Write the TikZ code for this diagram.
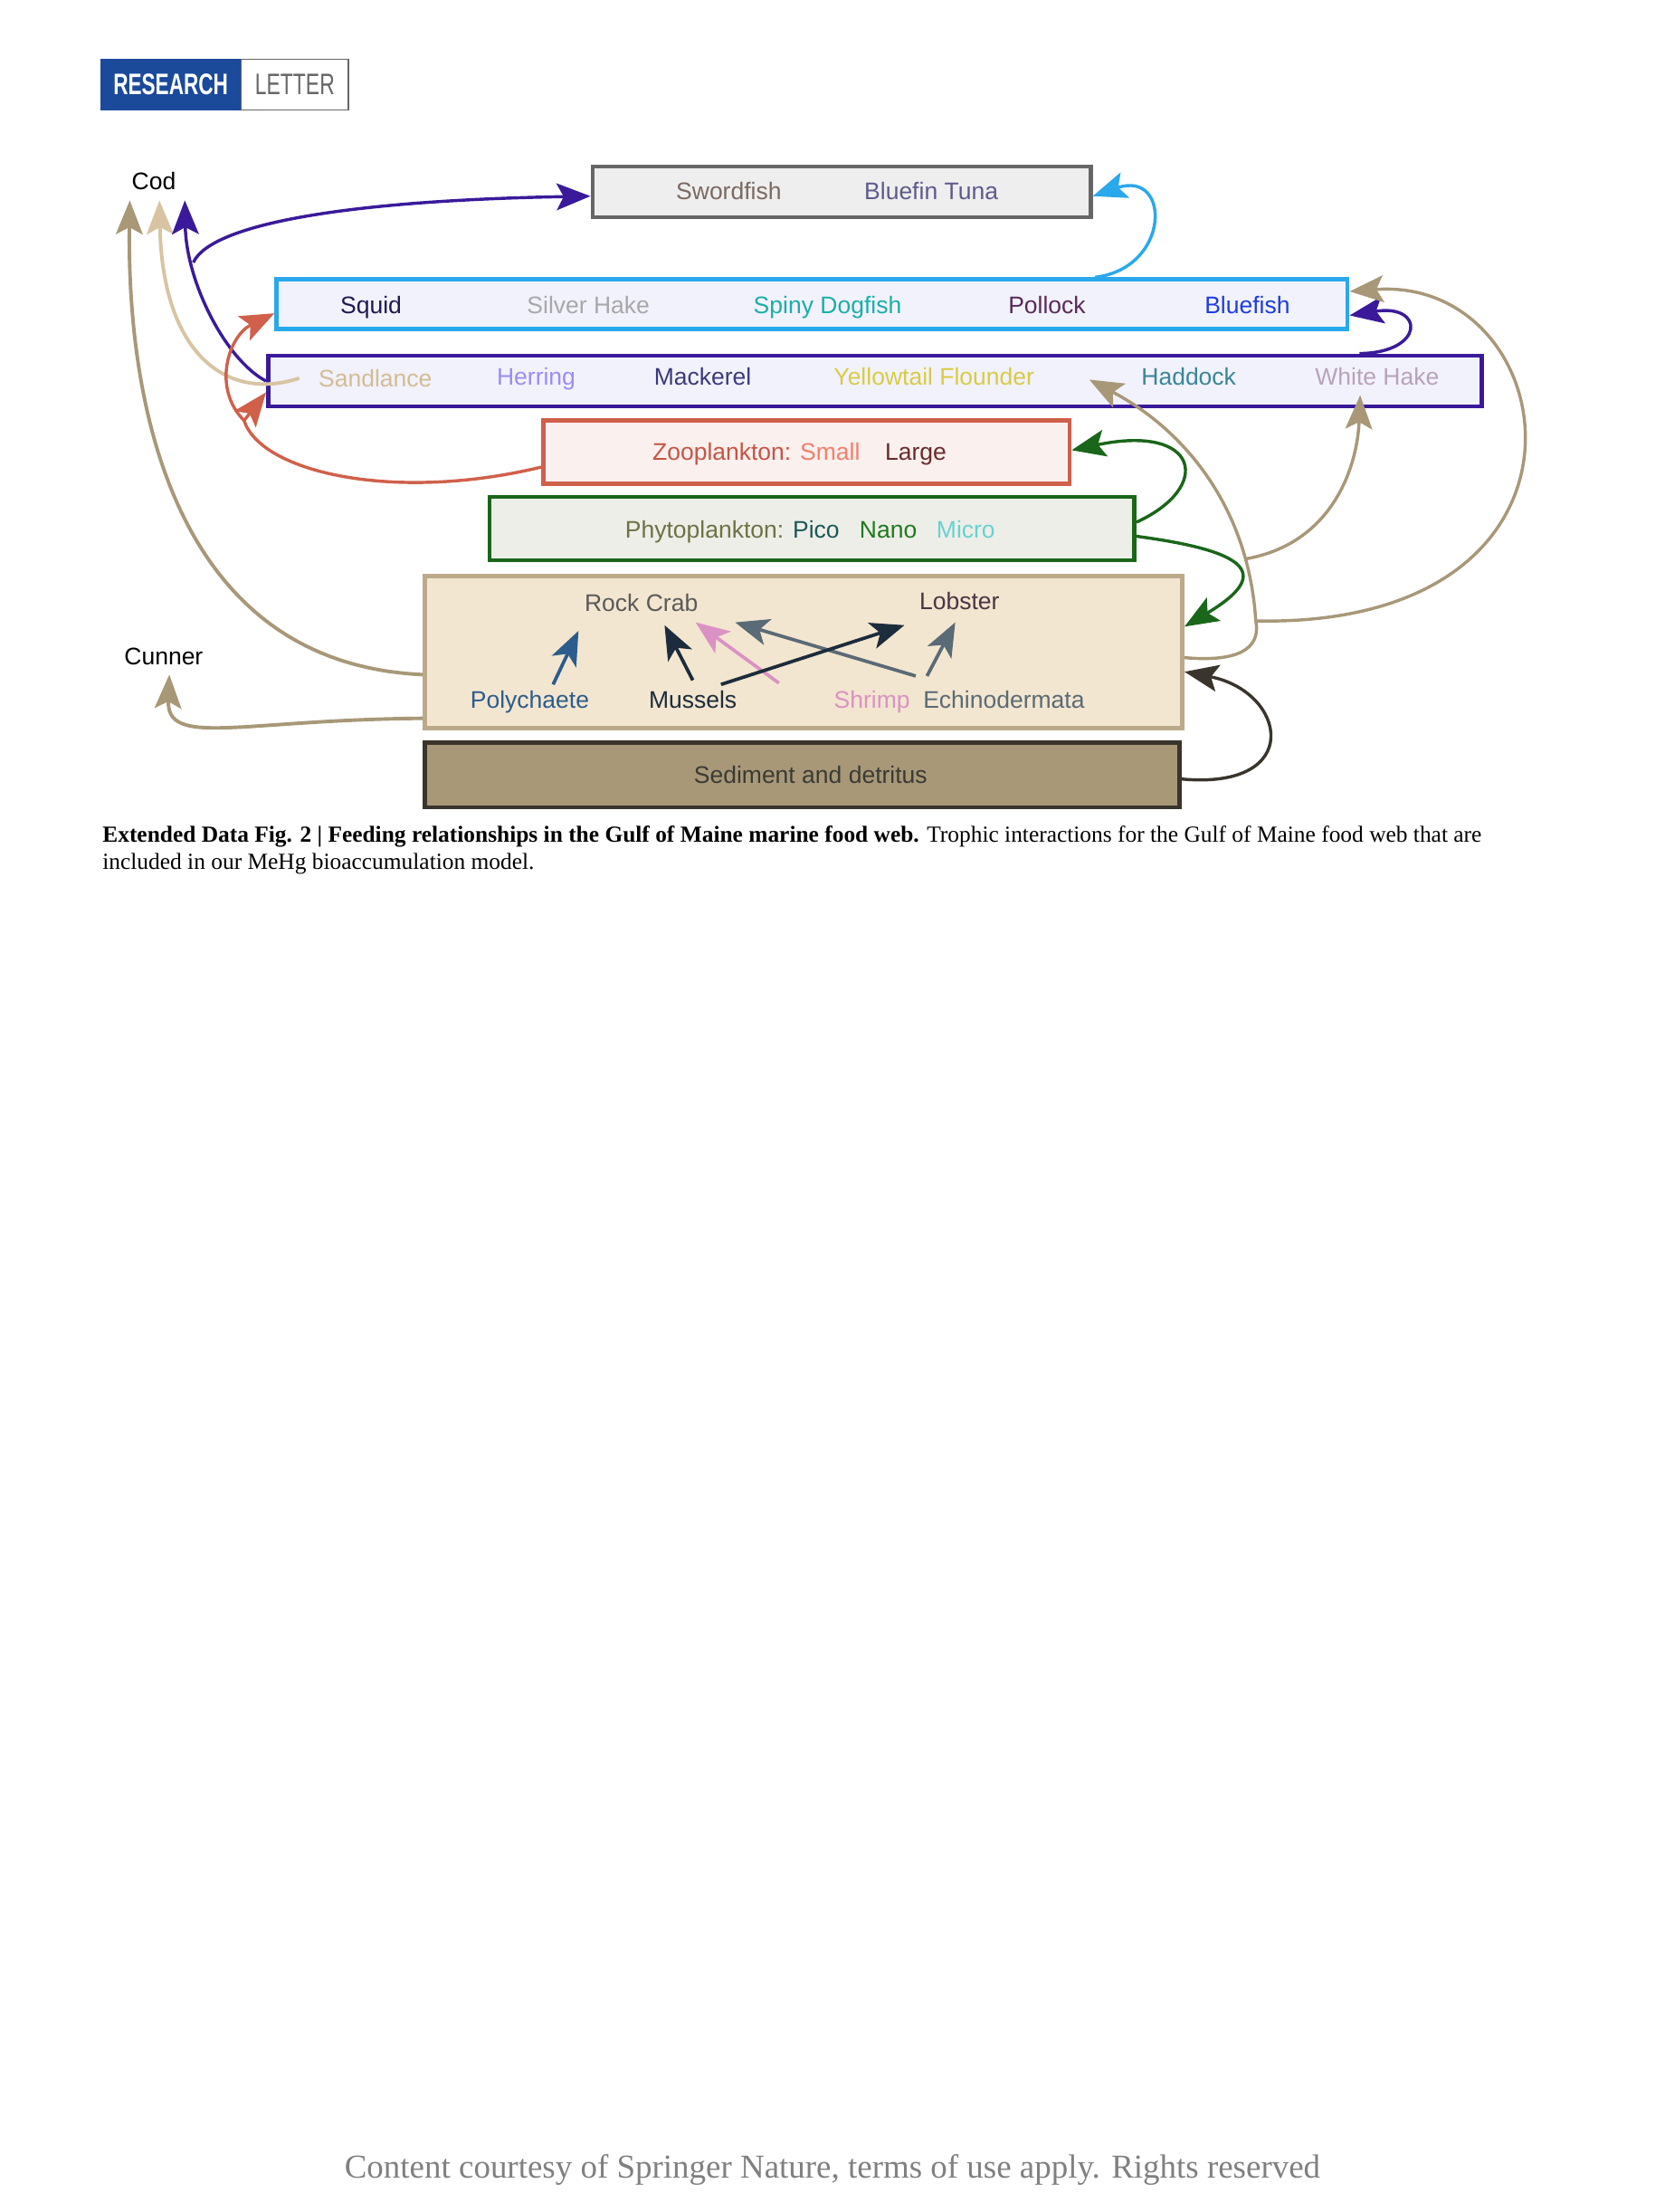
\documentclass[tikz,border=0pt]{standalone}
\usepackage{fontspec}
\setmainfont{Liberation Serif}
\setsansfont{Liberation Sans}
\usetikzlibrary{arrows.meta,calc}
\definecolor{rblue}{HTML}{1B4A9B}
\definecolor{tanA}{HTML}{A89878}
\definecolor{tanB}{HTML}{D8C4A2}
\definecolor{indig}{HTML}{3A1A9A}
\definecolor{zred}{HTML}{D0604A}
\definecolor{sky}{HTML}{2AA8EC}
\definecolor{pgreen}{HTML}{1A661A}
\definecolor{sedline}{HTML}{3A352C}
\definecolor{swordline}{HTML}{666666}
\definecolor{swordfill}{HTML}{EEEEEE}
\definecolor{fishfill}{HTML}{F2F2FD}
\definecolor{zoofill}{HTML}{FAF0EE}
\definecolor{phytofill}{HTML}{EEEEE8}
\definecolor{benthfill}{HTML}{F3E6D0}
\definecolor{benthline}{HTML}{BBAA8A}
\definecolor{sedfill}{HTML}{A89878}
\definecolor{footgray}{HTML}{808080}
\definecolor{cSword}{HTML}{7A6A62}
\definecolor{cTuna}{HTML}{5E5A8C}
\definecolor{cSquid}{HTML}{1E1A50}
\definecolor{cSilver}{HTML}{A8A8A8}
\definecolor{cDog}{HTML}{1AAFA8}
\definecolor{cPollock}{HTML}{5A2A5C}
\definecolor{cBluefish}{HTML}{1E3CE0}
\definecolor{cSand}{HTML}{D4BC94}
\definecolor{cHerring}{HTML}{9C8CF4}
\definecolor{cMack}{HTML}{3C3A7C}
\definecolor{cYellow}{HTML}{D8CC44}
\definecolor{cHaddock}{HTML}{3A8696}
\definecolor{cWhite}{HTML}{BAA2BA}
\definecolor{cZoo}{HTML}{C65444}
\definecolor{cSmall}{HTML}{F2806C}
\definecolor{cLarge}{HTML}{6A2A2C}
\definecolor{cPhyto}{HTML}{6E7244}
\definecolor{cPico}{HTML}{1A5858}
\definecolor{cNano}{HTML}{1E7A1E}
\definecolor{cMicro}{HTML}{66D2D2}
\definecolor{cRock}{HTML}{5A5A5A}
\definecolor{cLobster}{HTML}{4A3444}
\definecolor{cPoly}{HTML}{2C5C8C}
\definecolor{cMussel}{HTML}{1C2C3C}
\definecolor{cShrimp}{HTML}{DA92C4}
\definecolor{cEchino}{HTML}{5A6A76}
\definecolor{cSed}{HTML}{3A3A34}
\begin{document}
\begin{tikzpicture}[x=1pt,y=-1pt,
  box/.style={draw, line width=3pt, inner sep=0pt},
  lbl/.style={font=\sffamily\fontsize{17}{20}\selectfont, inner sep=0pt, text height=12.2pt, text depth=0pt},
  arr/.style={line width=2.2pt, -{Stealth[length=24pt,width=19pt,inset=5pt]}},
  sarr/.style={line width=2.4pt, -{Stealth[length=24pt,width=19pt,inset=6pt]}}]
\useasboundingbox[fill=white] (0,0) rectangle (1180,1567.4);

% header
\node[fill=rblue, minimum width=100pt, minimum height=36pt, inner sep=0pt] (rbox) at (121,60) {};
\node[draw=swordline, line width=1pt, fill=white, minimum width=76pt, minimum height=36pt, inner sep=0pt] (lbox) at (209,60) {};
\node[inner sep=0pt, text=white, font=\sffamily\bfseries\fontsize{21}{24}\selectfont] (research) at (121,60) {\scalebox{0.69}[1]{RESEARCH}};
\node[inner sep=0pt, text=swordline, font=\sffamily\fontsize{21}{24}\selectfont] (letter) at (209,60) {\scalebox{0.70}[1]{LETTER}};

% boxes
\node[box, draw=swordline, fill=swordfill, minimum width=353pt, minimum height=36pt] (sword) at (596.5,136) {};
\node[box, draw=sky, fill=fishfill, minimum width=759pt, minimum height=35pt] (squidbox) at (575.5,215.5) {};
\node[box, draw=indig, fill=fishfill, minimum width=860pt, minimum height=36pt] (sandbox) at (620,270) {};
\node[box, draw=zred, fill=zoofill, minimum width=373pt, minimum height=45pt] (zoo) at (571.5,320.5) {};
\node[box, draw=pgreen, fill=phytofill, minimum width=457pt, minimum height=45pt] (phyto) at (575.5,374.5) {};
\node[box, draw=benthline, fill=benthfill, minimum width=537pt, minimum height=108pt] (benth) at (569.5,462) {};
\node[box, draw=sedline, fill=sedfill, minimum width=535pt, minimum height=46pt] (sed) at (568.5,549) {};

% labels
\node[lbl] (cod) at (109,128) {Cod};
\node[lbl] (cunner) at (116,465) {Cunner};
\node[lbl, text=cSword] (swordfish) at (516.5,135) {Swordfish};
\node[lbl, text=cTuna] (tuna) at (660,135) {Bluefin Tuna};
\node[lbl, text=cSquid] (squid) at (263,216) {Squid};
\node[lbl, text=cSilver] (silver) at (417,216) {Silver Hake};
\node[lbl, text=cDog] (dogfish) at (586.5,216) {Spiny Dogfish};
\node[lbl, text=cPollock] (pollock) at (742,216) {Pollock};
\node[lbl, text=cBluefish] (bluefish) at (884,216) {Bluefish};
\node[lbl, text=cSand] (sandlance) at (266,268) {Sandlance};
\node[lbl, text=cHerring] (herring) at (380,267) {Herring};
\node[lbl, text=cMack] (mackerel) at (498,267) {Mackerel};
\node[lbl, text=cYellow] (yellowtail) at (662,267) {Yellowtail Flounder};
\node[lbl, text=cHaddock] (haddock) at (842.5,267) {Haddock};
\node[lbl, text=cWhite] (whitehake) at (976,267) {White Hake};
\node[lbl] (zoolab) at (536,320) {\textcolor{cZoo}{Zooplankton:} \textcolor{cSmall}{Small}};
\node[lbl, text=cLarge] (large) at (649,320) {Large};
\node[lbl] (phytolab) at (519,375) {\textcolor{cPhyto}{Phytoplankton:} \textcolor{cPico}{Pico}};
\node[lbl, text=cNano] (nano) at (629.5,375) {Nano};
\node[lbl, text=cMicro] (micro) at (684.5,375) {Micro};
\node[lbl, text=cRock] (rock) at (454.5,427) {Rock Crab};
\node[lbl, text=cLobster] (lobster) at (680,426) {Lobster};
\node[lbl, text=cPoly] (poly) at (375.5,496) {Polychaete};
\node[lbl, text=cMussel] (mussels) at (491,496) {Mussels};
\node[lbl, text=cShrimp] (shrimp) at (618,496) {Shrimp};
\node[lbl, text=cEchino] (echino) at (711.5,496) {Echinodermata};
\node[lbl, text=cSed] (sedlab) at (574.5,549) {Sediment and detritus};

% junctions
\coordinate (ibranch) at (137,186);
\coordinate (rbranch) at (173,298);
\coordinate (jone) at (890,440);
\coordinate (wbranch) at (883,396);

% connectors to Cod
\draw[arr, draw=tanA, line width=2.5pt] ([shift={(0,16)}]benth.west) .. controls (120,470) and (90,280) .. ([shift={(-17,14)}]cod.center);
\draw[arr, draw=tanB, line width=2.5pt] ([shift={(-54,0)}]sandlance.center) .. controls (160,285) and (115,250) .. ([shift={(4,14)}]cod.center);
\draw[arr, draw=indig] (sandbox.west) .. controls (160,255) and (132,200) .. ([shift={(22,14)}]cod.center);
\draw[arr, draw=indig] (ibranch) .. controls (150,158) and (250,142) .. ([shift={(0,3)}]sword.west);

% zooplankton
\draw[line width=2.2pt, draw=zred] ([shift={(0,10.5)}]zoo.west) .. controls (280,356) and (185,335) .. (rbranch);
\draw[arr, draw=zred] (rbranch) -- ([shift={(0,8)}]sandbox.west);
\draw[arr, draw=zred] (rbranch) .. controls (150,275) and (162,238) .. ([shift={(0,6.5)}]squidbox.west);

% upper predators
\draw[arr, draw=sky] ([shift={(200.5,0)}]squidbox.north) .. controls (830,190) and (830,120) .. ([shift={(0,3)}]sword.east);
\draw[arr, draw=indig] ([shift={(-88,0)}]sandbox.north east) .. controls (1010,250) and (1010,215) .. ([shift={(0,8)}]squidbox.east);

% benthic loop
\draw[arr, draw=tanA] ([shift={(0,4)}]benth.east) .. controls (885,470) and (893,455) .. (jone) .. controls (885,360) and (840,305) .. ([shift={(-70.5,2)}]haddock.center);
\draw[arr, draw=tanA] (jone) .. controls (1150,445) and (1110,195) .. ([shift={(0,-9)}]squidbox.east);
\draw[arr, draw=tanA] (wbranch) .. controls (945,385) and (962,330) .. ([shift={(-12,13)}]whitehake.center);
\draw[arr, draw=tanA, line width=2.5pt] ([shift={(0,47)}]benth.west) .. controls (170,510) and (118,530) .. ([shift={(4,13)}]cunner.center);

% phytoplankton
\draw[arr, draw=pgreen] ([shift={(0,-4.5)}]phyto.east) .. controls (860,345) and (850,300) .. ([shift={(0,-1.5)}]zoo.east);
\draw[arr, draw=pgreen] ([shift={(0,5.5)}]phyto.east) .. controls (880,390) and (905,405) .. ([shift={(0,-18)}]benth.east);

% sediment
\draw[arr, draw=sedline] ([shift={(0,3)}]sed.east) .. controls (925,560) and (912,490) .. ([shift={(0,14)}]benth.east);

% inside benthic box
\draw[sarr, draw=cPoly] ([shift={(16.5,-11)}]poly.center) -- ([shift={(-44.5,20)}]rock.center);
\draw[sarr, draw=cMussel] ([shift={(0,-14)}]mussels.center) -- ([shift={(16.5,16)}]rock.center);
\draw[sarr, draw=cShrimp] ([shift={(-66,-12)}]shrimp.center) -- ([shift={(38.5,14)}]rock.center);
\draw[sarr, draw=cEchino] ([shift={(-62.5,-17)}]echino.center) -- ([shift={(66.5,14)}]rock.center);
\draw[sarr, draw=cMussel] ([shift={(20,-11)}]mussels.center) -- ([shift={(-39,17)}]lobster.center);
\draw[sarr, draw=cEchino] ([shift={(-54.5,-17)}]echino.center) -- ([shift={(-3,15)}]lobster.center);

% caption
\node[anchor=base west, inner sep=0pt, font=\fontsize{16.3}{19}\selectfont] (cap1) at (72.5,596.6) {\textbf{Extended Data Fig. 2 | Feeding relationships in the Gulf of Maine marine food web.} Trophic interactions for the Gulf of Maine food web that are};
\node[anchor=base west, inner sep=0pt, font=\fontsize{16.3}{19}\selectfont] (cap2) at (72.5,615.7) {included in our MeHg bioaccumulation model.};

% footer
\node[anchor=base, inner sep=0pt, text=footgray, font=\fontsize{23.7}{26}\selectfont] (footer) at (590,1543.6) {Content courtesy of Springer Nature, terms of use apply. Rights reserved};
\end{tikzpicture}
\end{document}
